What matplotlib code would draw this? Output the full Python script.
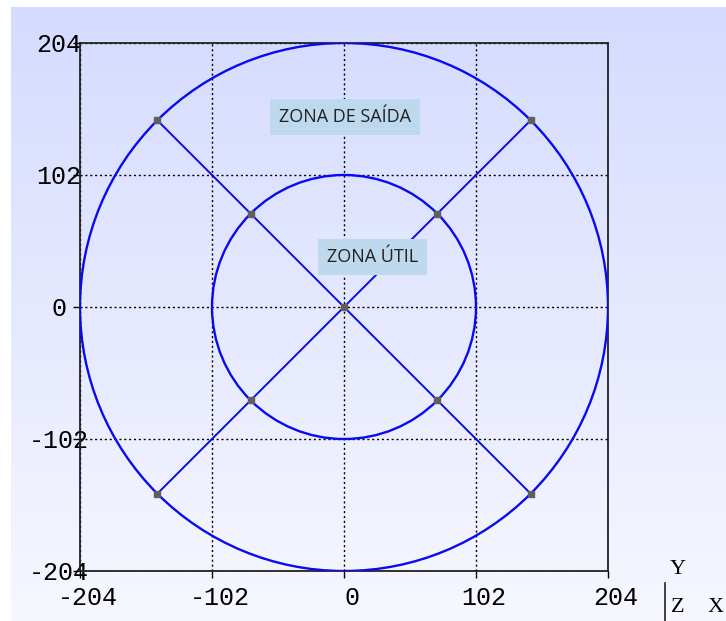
import numpy as np
import matplotlib
matplotlib.use("Agg")
import matplotlib.pyplot as plt
from matplotlib.patches import Circle
from matplotlib.lines import Line2D
from matplotlib.transforms import ScaledTranslation

# zone geometry (mm)
outer_radius = 204
inner_radius = 102
spoke_angles = [45, 135, 225, 315]
tick_values = [-204, -102, 0, 102, 204]
tick_labels = ["-204", "-102", "0", "102", "204"]
zone_names = ["ZONA DE SAÍDA", "ZONA ÚTIL"]
zone_label_pos = [(1, 147), (22, 39)]

W, H = 726, 621
fig = plt.figure(figsize=(W / 100, H / 100), dpi=100)
fig.patch.set_facecolor("white")

# soft blue backdrop, darker at the top
bg = fig.add_axes([11 / W, 0, 1 - 11 / W, 614 / H], zorder=-5)
top = np.array([213, 219, 254]) / 255
bottom = np.array([246, 247, 255]) / 255
t = np.linspace(0, 1, 256)[:, None]
grad = top * (1 - t) + bottom * t
bg.imshow(grad[:, None, :], aspect="auto", extent=[0, 1, 0, 1])
bg.axis("off")

ax = fig.add_axes([80 / W, 50 / H, 528 / W, 528 / H])
ax.set_facecolor("none")
ax.set_xlim(-outer_radius, outer_radius)
ax.set_ylim(-outer_radius, outer_radius)

blue = "#0a0af0"
for r in (outer_radius, inner_radius):
    ax.add_patch(Circle((0, 0), r, fill=False, edgecolor=blue, lw=1.7, zorder=3))

# diagonal spokes across the outer circle
for a in spoke_angles[:2]:
    rad = np.deg2rad(a)
    xs = [outer_radius * np.cos(rad), -outer_radius * np.cos(rad)]
    ys = [outer_radius * np.sin(rad), -outer_radius * np.sin(rad)]
    ax.plot(xs, ys, color=blue, lw=1.4, zorder=3)

# measuring points on both circles and the centre
px, py = [0.0], [0.0]
for r in (outer_radius, inner_radius):
    for a in spoke_angles:
        rad = np.deg2rad(a)
        px.append(r * np.cos(rad))
        py.append(r * np.sin(rad))
ax.plot(px, py, ls="none", marker="s", ms=3.7, color="#5f5f5f", zorder=4)

for name, (x, y) in zip(zone_names, zone_label_pos):
    ax.text(x, y, name, ha="center", va="center", fontsize=13,
            family="Open Sans", color="#222222", zorder=5,
            bbox=dict(boxstyle="square,pad=0.5", fc="#bed8ee", ec="none"))

ax.set_xticks(tick_values)
ax.set_yticks(tick_values)
ax.set_xticklabels(tick_labels, family="Liberation Mono", fontsize=18)
ax.set_yticklabels(tick_labels, family="Liberation Mono", fontsize=18, ha="center")
ax.tick_params(direction="out", length=5, width=1, color="black")
ax.tick_params(axis="y", pad=10)
ax.tick_params(axis="x", pad=6)
shift = ScaledTranslation(8 / 100, 0, fig.dpi_scale_trans)
for lab in ax.get_xticklabels():
    lab.set_transform(lab.get_transform() + shift)

ax.grid(True, color="black", ls=(0, (1.5, 2)), lw=1)
for s in ax.spines.values():
    s.set_color("#222222")
    s.set_linewidth(1.3)

# orientation triad, bottom right
triad = dict(family="Liberation Serif", fontsize=16, ha="center", va="center")
fig.text(678 / W, 1 - 570 / H, "Y", **triad)
fig.text(678 / W, 1 - 607 / H, "Z", **triad)
fig.text(716 / W, 1 - 607 / H, "X", **triad)
fig.add_artist(Line2D([665 / W, 665 / W], [0, 1 - 583 / H], color="#222222", lw=1.2))

fig.savefig("out.png", dpi=100)
